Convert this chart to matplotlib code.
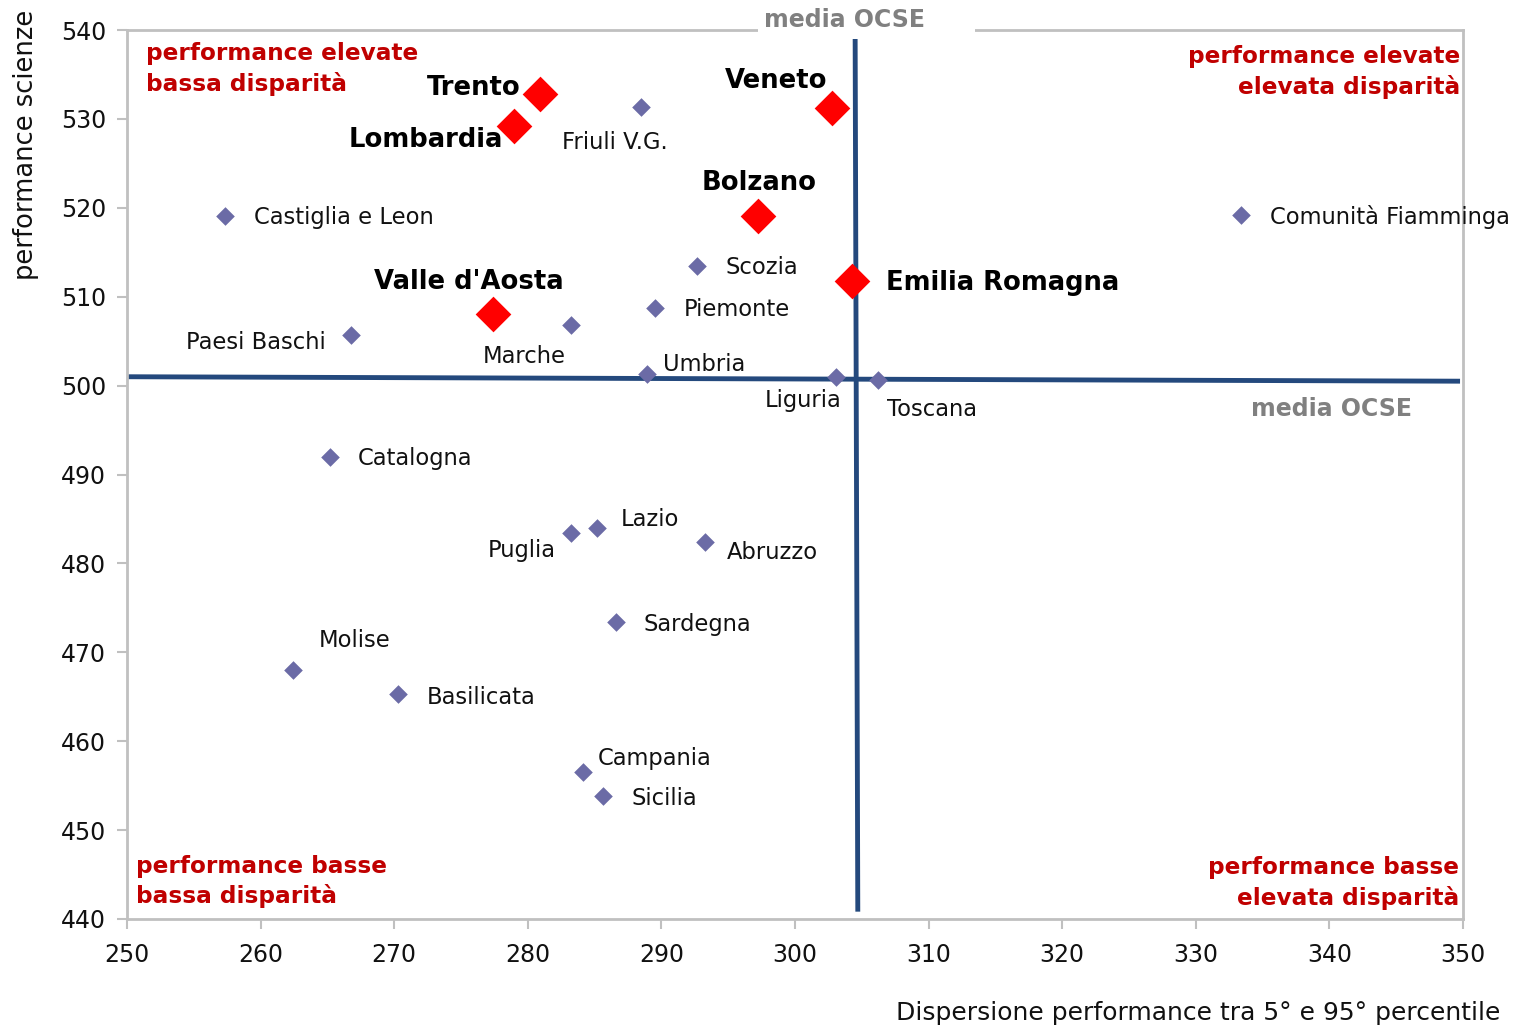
import matplotlib.pyplot as plt
from matplotlib.patches import Rectangle

# regioni italiane evidenziate
big_names = ["Trento", "Lombardia", "Veneto", "Bolzano", "Emilia Romagna", "Valle d'Aosta"]
big_x = [280.9, 279.0, 302.8, 297.2, 304.3, 277.4]
big_y = [532.8, 529.2, 531.2, 519.1, 511.8, 508.1]

# altre regioni / paesi
small_names = ["Friuli V.G.", "Castiglia e Leon", "Comunità Fiamminga", "Scozia", "Piemonte",
               "Paesi Baschi", "Marche", "Umbria", "Liguria", "Toscana", "Catalogna",
               "Puglia", "Lazio", "Abruzzo", "Sardegna", "Molise", "Basilicata",
               "Campania", "Sicilia"]
small_x = [288.5, 257.3, 333.4, 292.7, 289.5, 266.8, 283.2, 288.9, 303.1, 306.2, 265.2,
           283.2, 285.2, 293.3, 286.6, 262.4, 270.3, 284.1, 285.6]
small_y = [531.3, 519.1, 519.2, 513.5, 508.7, 505.7, 506.8, 501.3, 501.0, 500.6, 492.0,
           483.4, 484.0, 482.4, 473.4, 468.0, 465.3, 456.5, 453.8]

# media OCSE (linee)
ocse_h_x = [250, 349.6]
ocse_h_y = [501.0, 500.5]
ocse_v_x = [304.5, 304.7]
ocse_v_y = [540, 441.1]

xticks = [250, 260, 270, 280, 290, 300, 310, 320, 330, 340, 350]
yticks = [440, 450, 460, 470, 480, 490, 500, 510, 520, 530, 540]

# label offsets in pixel (dx, dy, ha)
big_off = {"Trento": (-19, 6, "right"), "Lombardia": (-11, -14, "right"),
           "Veneto": (-5, 27, "right"), "Bolzano": (2, 33, "center"),
           "Emilia Romagna": (34, -2, "left"), "Valle d'Aosta": (-24, 32, "center")}
small_off = {"Friuli V.G.": (-27, -35, "center"), "Castiglia e Leon": (29, -2, "left"),
             "Comunità Fiamminga": (29, -2, "left"), "Scozia": (28, -2, "left"),
             "Piemonte": (29, -1, "left"), "Paesi Baschi": (-26, -8, "right"),
             "Marche": (-46, -31, "center"), "Umbria": (16, 10, "left"),
             "Liguria": (-33, -24, "center"), "Toscana": (9, -29, "left"),
             "Catalogna": (28, -2, "left"), "Puglia": (-15, -17, "right"),
             "Lazio": (23, 8, "left"), "Abruzzo": (21, -10, "left"),
             "Sardegna": (28, -2, "left"), "Molise": (26, 30, "left"),
             "Basilicata": (29, -3, "left"), "Campania": (15, 14, "left"),
             "Sicilia": (29, -2, "left")}

plt.rcParams['font.family'] = ['DejaVu Sans']
fig = plt.figure(figsize=(15.29, 10.29), dpi=100)
ax = fig.add_axes([0.0831, 0.1069, 0.8737, 0.8639])

blue = '#24497d'
ax.plot(ocse_h_x, ocse_h_y, color=blue, lw=3.5, zorder=2)
ax.plot(ocse_v_x, ocse_v_y, color=blue, lw=3.5, zorder=2)

ax.scatter(small_x, small_y, marker='D', s=90, color='#6b6ba6', zorder=3, linewidths=0)
ax.scatter(big_x, big_y, marker='D', s=330, color='#ff0000', zorder=4, linewidths=0)

for n, x, y in zip(small_names, small_x, small_y):
    dx, dy, ha = small_off[n]
    ax.annotate(n, (x, y), xytext=(dx, dy), textcoords='offset pixels', ha=ha, va='center',
                fontsize=16.3, color='#111111')
for n, x, y in zip(big_names, big_x, big_y):
    dx, dy, ha = big_off[n]
    ax.annotate(n, (x, y), xytext=(dx, dy), textcoords='offset pixels', ha=ha, va='center',
                fontsize=18.6, fontweight='bold', color='black')

ax.set_xlim(250, 350)
ax.set_ylim(440, 540)
ax.set_xticks(xticks)
ax.set_yticks(yticks)
for s in ax.spines.values():
    s.set_color('#c0c0c0')
    s.set_linewidth(2)
ax.tick_params(colors='#c0c0c0', labelcolor='#111111', labelsize=17, length=7, width=1.5)
ax.tick_params(axis='x', pad=10)
ax.tick_params(axis='y', pad=8)

# quadranti
red = '#c00000'
qs = dict(fontsize=16.7, fontweight='bold', color=red, linespacing=1.35, transform=ax.transAxes)
ax.text(0.014, 0.986, "performance elevate\nbassa disparità", ha='left', va='top', **qs)
ax.text(0.998, 0.983, "performance elevate\nelevata disparità", ha='right', va='top', **qs)
ax.text(0.007, 0.012, "performance basse\nbassa disparità", ha='left', va='bottom', **qs)
ax.text(0.997, 0.010, "performance basse\nelevata disparità", ha='right', va='bottom', **qs)

# etichette media OCSE
gray = '#808080'
ax.add_patch(Rectangle((0.472, 0.99), 0.163, 0.03, transform=ax.transAxes,
                       facecolor='white', edgecolor='none', clip_on=False, zorder=5))
ax.text(0.5367, 1.011, "media OCSE", transform=ax.transAxes, ha='center', va='center',
        fontsize=17, fontweight='bold', color=gray, zorder=6)
ax.text(0.9013, 0.574, "media OCSE", transform=ax.transAxes, ha='center', va='center',
        fontsize=17, fontweight='bold', color=gray)

fig.text(0.017, 0.859, "performance scienze", rotation=90, ha='center', va='center',
         fontsize=18.5, color='#111111')
fig.text(0.981, 0.016, "Dispersione performance tra 5° e 95° percentile", ha='right',
         va='center', fontsize=18, color='#111111')

fig.savefig('out.png', dpi=100)
